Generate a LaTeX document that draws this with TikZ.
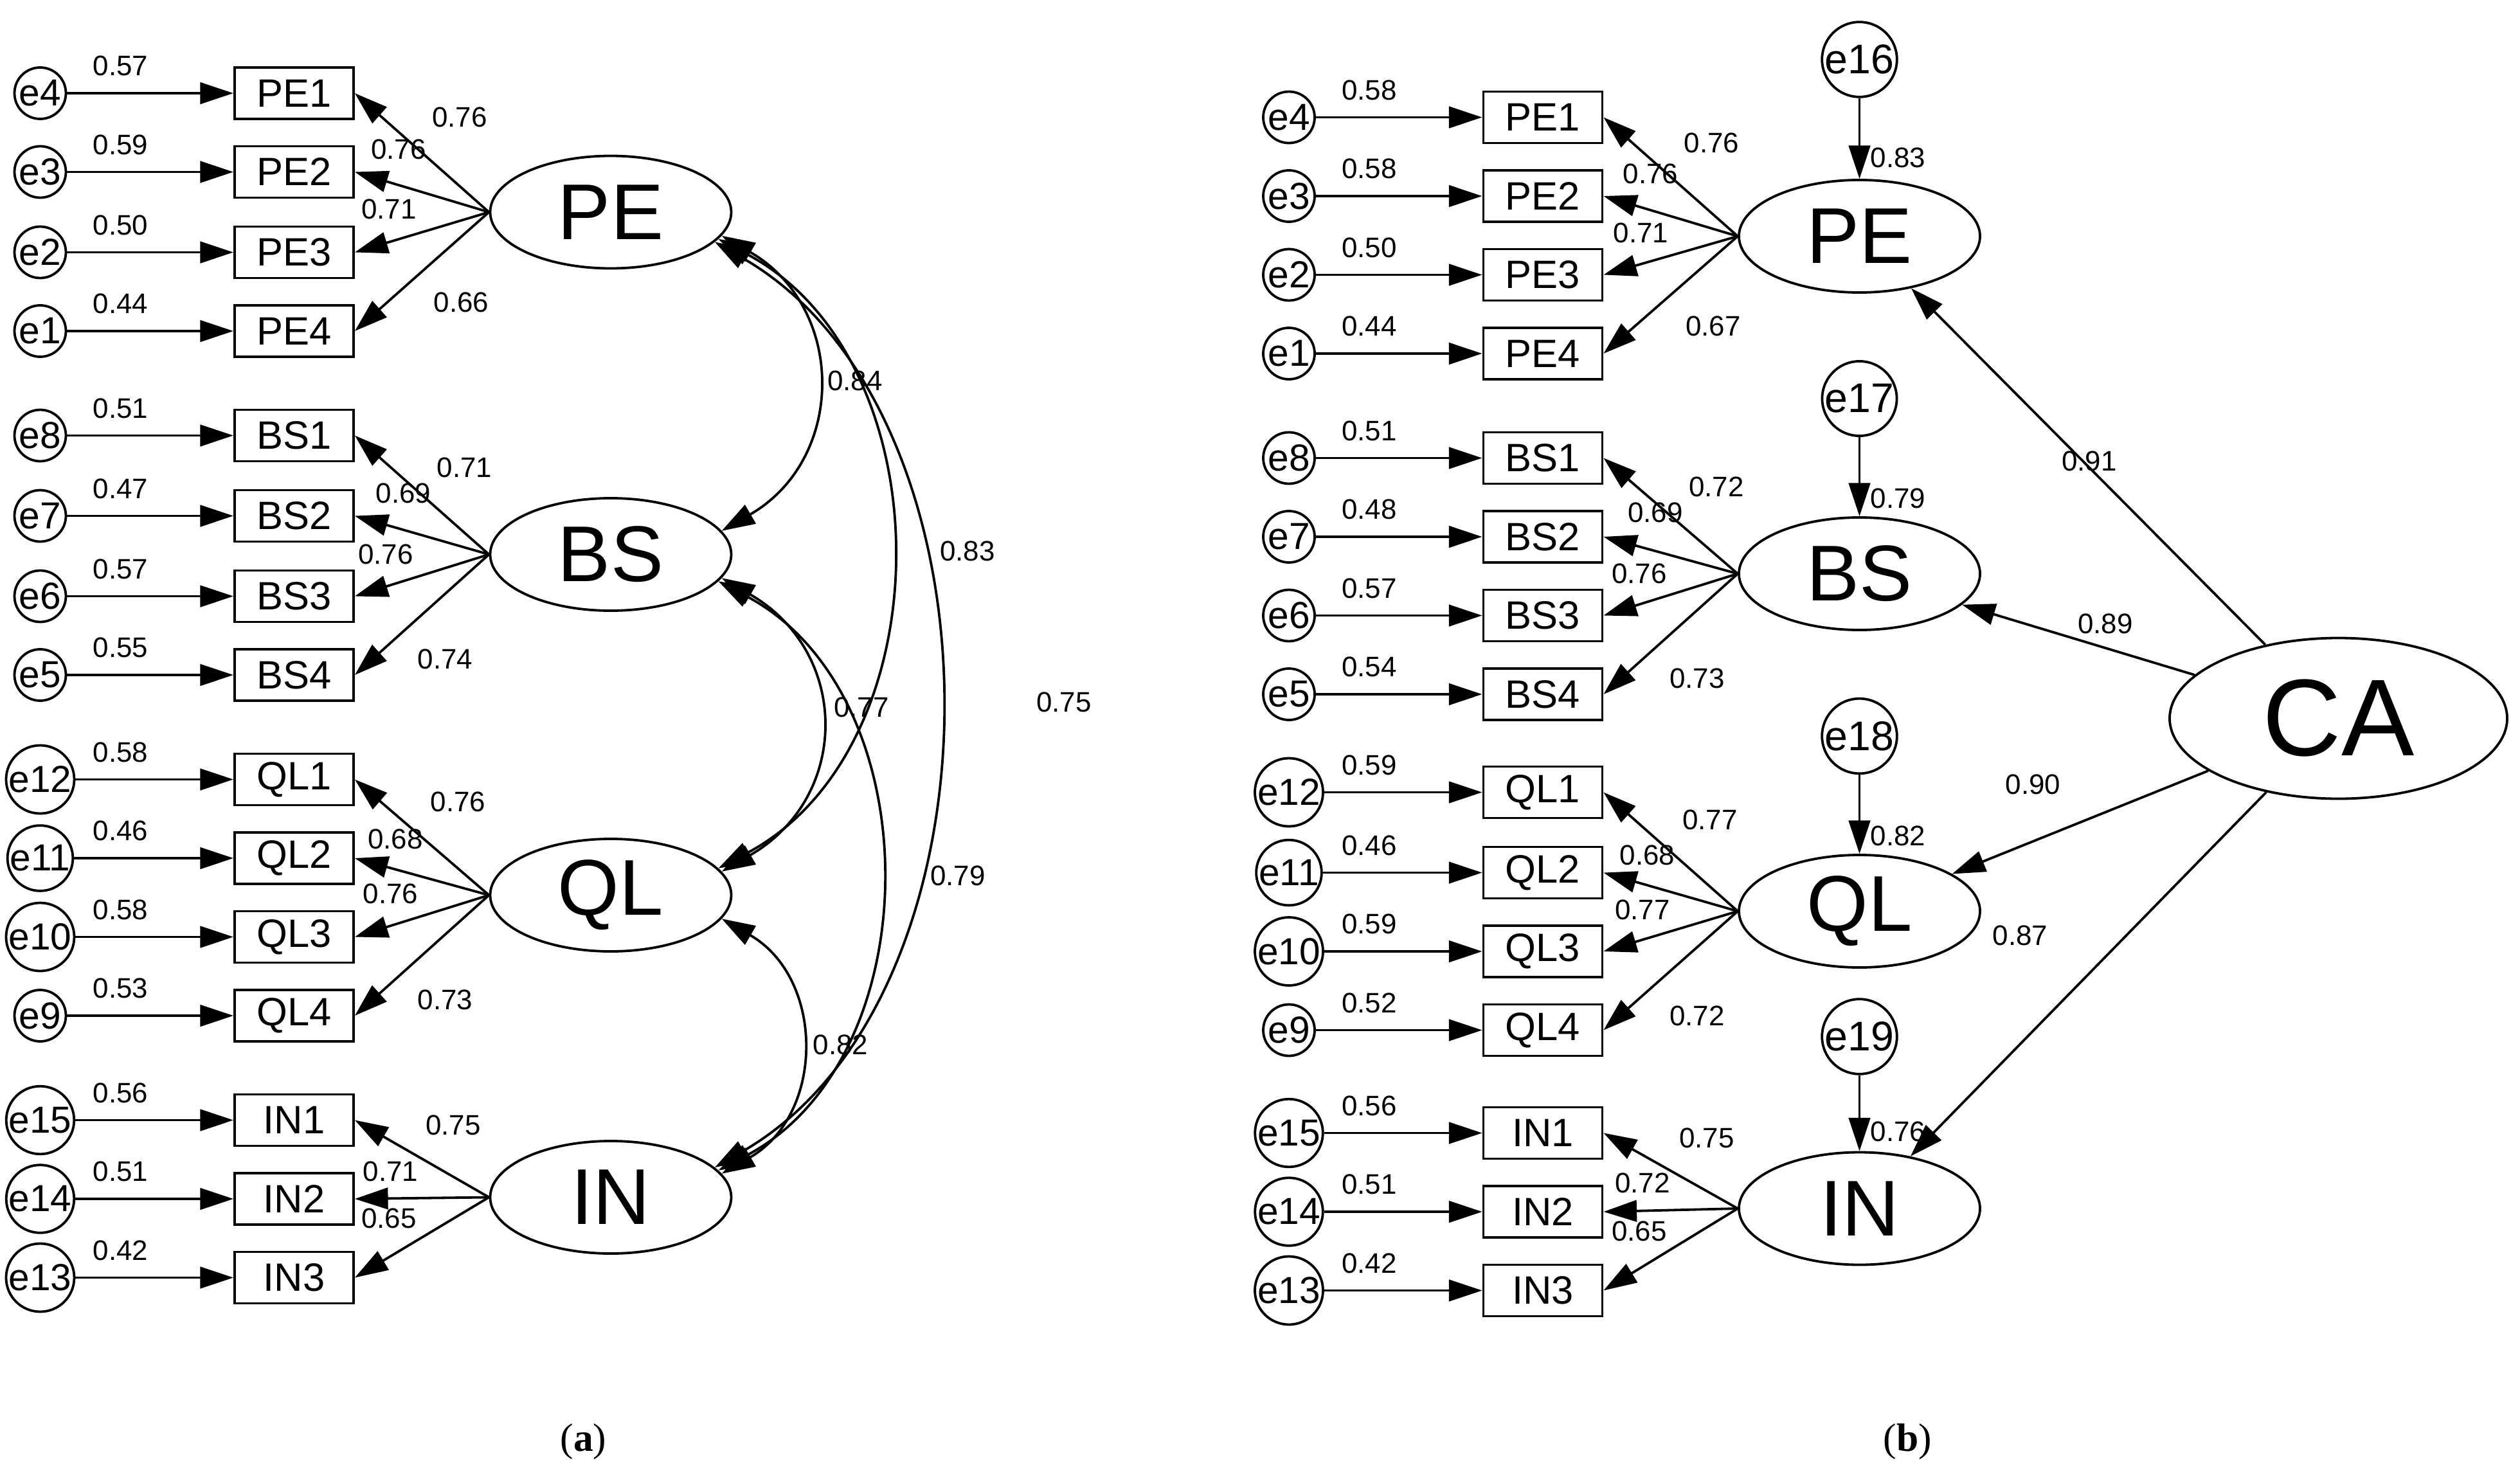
\documentclass[tikz,border=0pt]{standalone}
\usepackage{fontspec}
\setmainfont{Liberation Sans}
\newfontfamily\serifcap{Liberation Serif}
\usetikzlibrary{arrows.meta,shapes.geometric}
\begin{document}
\begin{tikzpicture}[x=0.03cm,y=-0.03cm,line width=1.3pt,
  tip/.style={-{Triangle[length=0.62cm,width=0.4cm]}},
  dtip/.style={{Triangle[length=0.62cm,width=0.4cm]}-{Triangle[length=0.62cm,width=0.4cm]}},
  err/.style={circle,draw,minimum size=0.96cm,inner sep=0pt,font=\fontsize{20}{20}\selectfont},
  dist/.style={circle,draw,minimum size=1.32cm,inner sep=0pt,font=\fontsize{22}{22}\selectfont},
  obs/.style={rectangle,draw,minimum width=2.22cm,minimum height=0.96cm,inner sep=0pt,font=\fontsize{21}{21}\selectfont},
  lat/.style={ellipse,draw,minimum width=4.5cm,minimum height=2.1cm,inner sep=0pt,font=\fontsize{42}{42}\selectfont},
  lbl/.style={font=\fontsize{15}{15}\selectfont,inner sep=1pt}]
\useasboundingbox (0,0) rectangle (1568,922.4);
% ---------- generic block macro ----------
% #1 prefix, #2 panel x offset, #3 name, #4 ellipse y, #5 list of item/y/err/errload/load/dx/dy
\newcommand{\semblock}[5]{%
  \node[lat] (#1#3) at (#2+380,#4) {#3};
  \foreach \it/\yy/\ee/\el/\ld/\dx/\dy in {#5}{
    \node[obs] (#1\it) at (#2+183,\yy) {\it};
    \node[err] (#1\ee) at (#2+25,\yy) {\ee};
    \draw[tip] (#1\ee) -- (#1\it);
    \node[lbl] at (#2+75,\yy-17) {\el};
    \draw[tip] (#1#3.west) -- (#1\it.east);
    \node[lbl] at (#2+380+\dx,#4+\dy) {\ld};
  }}
% ---------- panel (a) ----------
\semblock{a}{0}{PE}{132}{PE1/58/e4/0.57/0.76/-94/-59,PE2/107/e3/0.59/0.76/-132/-39,PE3/157/e2/0.50/0.71/-138/-2,PE4/206/e1/0.44/0.66/-93/56}
\semblock{a}{0}{BS}{345}{BS1/271/e8/0.51/0.71/-91/-54,BS2/321/e7/0.47/0.69/-129/-38,BS3/371/e6/0.57/0.76/-140/0,BS4/420/e5/0.55/0.74/-103/65}
\semblock{a}{0}{QL}{557}{QL1/485/e12/0.58/0.76/-95/-58,QL2/534/e11/0.46/0.68/-134/-35,QL3/583/e10/0.58/0.76/-137/-1,QL4/632/e9/0.53/0.73/-103/65}
\semblock{a}{0}{IN}{745}{IN1/697/e15/0.56/0.75/-98/-45,IN2/746/e14/0.51/0.71/-137/-16,IN3/795/e13/0.42/0.65/-138/13}
% covariances
\draw[dtip] (aPE.-12) to[out=-30,in=30,looseness=1.25] (aBS.12);
\draw[dtip] (aBS.-12) to[out=-30,in=30,looseness=1.3] (aQL.12);
\draw[dtip] (aQL.-12) to[out=-30,in=30,looseness=1.2] (aIN.12);
\draw[dtip] (aPE.-14) to[out=-28,in=28,looseness=1.05] (aQL.14);
\draw[dtip] (aBS.-14) to[out=-28,in=28,looseness=1.05] (aIN.14);
\draw[dtip] (aPE.-16) to[out=-30,in=30,looseness=0.95] (aIN.16);
\node[lbl] at (532,237) {0.84};
\node[lbl] at (602,343) {0.83};
\node[lbl] at (662,437) {0.75};
\node[lbl] at (536,440) {0.77};
\node[lbl] at (596,545) {0.79};
\node[lbl] at (523,650) {0.82};
% ---------- panel (b) ----------
\semblock{b}{777}{PE}{147}{PE1/73/e4/0.58/0.76/-92/-58,PE2/122/e3/0.58/0.76/-130/-39,PE3/171/e2/0.50/0.71/-136/-2,PE4/220/e1/0.44/0.67/-91/56}
\semblock{b}{777}{BS}{357}{BS1/285/e8/0.51/0.72/-89/-54,BS2/334/e7/0.48/0.69/-127/-38,BS3/383/e6/0.57/0.76/-137/0,BS4/432/e5/0.54/0.73/-101/65}
\semblock{b}{777}{QL}{567}{QL1/493/e12/0.59/0.77/-93/-57,QL2/543/e11/0.46/0.68/-132/-35,QL3/592/e10/0.59/0.77/-135/-1,QL4/641/e9/0.52/0.72/-101/65}
\semblock{b}{777}{IN}{752}{IN1/705/e15/0.56/0.75/-95/-44,IN2/754/e14/0.51/0.72/-135/-16,IN3/803/e13/0.42/0.65/-137/14}
% disturbances
\node[dist] (e16) at (1157,37) {e16};
\node[dist] (e17) at (1157,248) {e17};
\node[dist] (e18) at (1157,458) {e18};
\node[dist] (e19) at (1157,645) {e19};
\draw[tip] (e16) -- (bPE);
\draw[tip] (e17) -- (bBS);
\draw[tip] (e18) -- (bQL);
\draw[tip] (e19) -- (bIN);
\node[lbl] at (1181,98) {0.83};
\node[lbl] at (1181,310) {0.79};
\node[lbl] at (1181,520) {0.82};
\node[lbl] at (1181,704) {0.76};
% second-order factor
\node[lat,minimum width=6.3cm,minimum height=3cm,font=\fontsize{58}{58}\selectfont] (CA) at (1455,447) {CA};
\draw[tip] (CA) -- (bPE);
\draw[tip] (CA) -- (bBS);
\draw[tip] (CA) -- (bQL);
\draw[tip] (CA) -- (bIN);
\node[lbl] at (1300,287) {0.91};
\node[lbl] at (1310,388) {0.89};
\node[lbl] at (1265,488) {0.90};
\node[lbl] at (1257,582) {0.87};
% captions
\node[font=\serifcap\fontsize{21}{21}\selectfont] (capa) at (363,897) {(\textbf{a})};
\node[font=\serifcap\fontsize{21}{21}\selectfont] (capb) at (1187,897) {(\textbf{b})};
\end{tikzpicture}
\end{document}
